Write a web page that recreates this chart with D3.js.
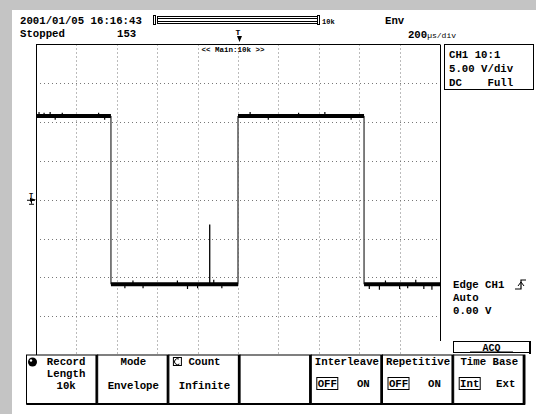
<!DOCTYPE html>
<html><head><meta charset="utf-8">
<script src="https://cdn.jsdelivr.net/npm/d3@7"></script>
<style>
html,body{margin:0;padding:0;background:#fff;}
svg{display:block;}
text{font-family:"Liberation Mono","DejaVu Sans Mono",monospace;font-weight:bold;fill:#000;}
</style></head>
<body>
<script>
// ---- data ----
const timeDomain = [-1000, 1000];          // µs, 200 µs/div
const voltDomain = [-20, 20];              // V, 5 V/div
const edgeTimes = [-1000, -629, 0, 624, 1000];   // µs
const levelVolts = [10.8, -10.9, 10.8, -10.9];   // V between edges
const spikeTimes = [-140];
const spikeVolts = [-3.2];
const noiseTimes = [-985, -960, -930, -905, -870, -690, -660, -560, -520, -470, -300, -250, -200, -120, -80, 60, 150, 300, 430, 560, 650, 700, 730, 800, 840, 880, 920, 960];
const noiseVolts = [11.3, 11.2, 11.3, 10.3, 11.2, 11.2, 10.3, -11.4, -10.4, -11.4, -10.4, -11.5, -11.4, -10.3, -11.4, 11.3, 10.3, 11.2, 11.3, 10.3, -11.5, -11.6, -10.4, -11.5, -11.4, -10.3, -11.5, -11.6];
const headerDate = "2001/01/05 16:16:43";
const headerState = "Stopped";
const headerCount = "153";
const headerMode = "Env";
const timeDiv = ["200", "µs/div"];
const recLabel = "10k";
const mainLabel = "<< Main:10k >>";
const chLines = ["CH1 10:1", "5.00 V/div", "DC    Full"];
const trigLines = ["Edge CH1", "Auto", "0.00 V"];
const menuTitle = "ACQ";
const buttonTop = ["Record", "Mode", "Count", "", "Interleave", "Repetitive", "Time Base"];
const buttonMid = ["Length", "", "", "", "", "", ""];
const buttonBot = ["10k", "Envelope", "Infinite", "", "", "", ""];
const buttonOpts = [null, null, null, null, ["OFF", "ON"], ["OFF", "ON"], ["Int", "Ext"]];

// ---- layout ----
const W = 536, H = 414;
const plot = {l: 36, r: 440, t: 44.5, b: 355};
const svg = d3.select("body").append("svg").attr("width", W).attr("height", H);
svg.append("rect").attr("width", W).attr("height", H).attr("fill", "#fff");
svg.append("rect").attr("x", 0).attr("y", 0).attr("width", W).attr("height", 10).attr("fill", "#c4c4c4");
svg.append("rect").attr("x", 0).attr("y", 0).attr("width", 12).attr("height", H).attr("fill", "#c4c4c4");

const x = d3.scaleLinear().domain(timeDomain).range([plot.l, plot.r]);
const y = d3.scaleLinear().domain(voltDomain).range([plot.b, plot.t]);

// grid
const g = svg.append("g");
x.ticks(10).slice(1, -1).forEach(t => {
  g.append("line").attr("x1", Math.round(x(t)) + 0.5).attr("x2", Math.round(x(t)) + 0.5)
    .attr("y1", plot.t).attr("y2", plot.b)
    .attr("stroke", "#777").attr("stroke-dasharray", "1,3");
});
y.ticks(8).slice(1, -1).forEach(v => {
  g.append("line").attr("y1", Math.round(y(v)) + 0.5).attr("y2", Math.round(y(v)) + 0.5)
    .attr("x1", plot.l).attr("x2", plot.r)
    .attr("stroke", "#777").attr("stroke-dasharray", "1,3");
});
// frame
svg.append("line").attr("x1", plot.l + 0.5).attr("x2", plot.l + 0.5).attr("y1", plot.t).attr("y2", plot.b).attr("stroke", "#000");
svg.append("line").attr("x1", plot.l).attr("x2", plot.r).attr("y1", plot.t).attr("y2", plot.t).attr("stroke", "#000");
svg.append("line").attr("x1", plot.r + 0.5).attr("x2", plot.r + 0.5).attr("y1", plot.t).attr("y2", 341).attr("stroke", "#000");

// waveform: vertical transitions
const wave = svg.append("g");
for (let i = 1; i < edgeTimes.length - 1; i++) {
  wave.append("line").attr("x1", x(edgeTimes[i])).attr("x2", x(edgeTimes[i]))
    .attr("y1", y(levelVolts[i - 1])).attr("y2", y(levelVolts[i]))
    .attr("stroke", "#555").attr("stroke-width", 1.5);
}
// horizontal envelope bands
for (let i = 0; i < levelVolts.length; i++) {
  wave.append("line").attr("x1", x(edgeTimes[i])).attr("x2", x(edgeTimes[i + 1]))
    .attr("y1", y(levelVolts[i])).attr("y2", y(levelVolts[i]))
    .attr("stroke", "#000").attr("stroke-width", 4);
}
// envelope noise
noiseTimes.forEach((t, i) => {
  const lvl = levelVolts[d3.bisectRight(edgeTimes, t) - 1];
  wave.append("line").attr("x1", x(t)).attr("x2", x(t))
    .attr("y1", y(lvl)).attr("y2", y(noiseVolts[i]))
    .attr("stroke", "#000").attr("stroke-width", 1.2);
});
// spike
spikeTimes.forEach((t, i) => {
  const lvl = levelVolts[d3.bisectRight(edgeTimes, t) - 1];
  wave.append("line").attr("x1", x(t)).attr("x2", x(t))
    .attr("y1", y(lvl)).attr("y2", y(spikeVolts[i]))
    .attr("stroke", "#000").attr("stroke-width", 1.3);
});

// trigger level marker on the left
const ty = y(0);
svg.append("text").attr("x", 29).attr("y", ty - 2).attr("font-size", 7).text("T");
svg.append("path").attr("d", `M30,${ty - 2} L36,${ty} L30,${ty + 2} Z`).attr("fill", "#000");
svg.append("line").attr("x1", 27).attr("x2", 35).attr("y1", ty + 0.5).attr("y2", ty + 0.5).attr("stroke", "#000");
svg.append("line").attr("x1", 31.5).attr("x2", 31.5).attr("y1", ty).attr("y2", ty + 4).attr("stroke", "#000");
svg.append("line").attr("x1", 29).attr("x2", 34).attr("y1", ty + 4.5).attr("y2", ty + 4.5).attr("stroke", "#000");

// header texts
svg.append("text").attr("x", 20).attr("y", 24).attr("font-size", 10.7).text(headerDate);
svg.append("text").attr("x", 20).attr("y", 37).attr("font-size", 10.7).text(headerState);
svg.append("text").attr("x", 117).attr("y", 37).attr("font-size", 10.7).text(headerCount);
svg.append("text").attr("x", 385).attr("y", 24).attr("font-size", 10.7).text(headerMode);
const td = svg.append("text").attr("x", 456).attr("y", 38).attr("text-anchor", "end").attr("font-size", 10.7);
td.append("tspan").text(timeDiv[0]);
td.append("tspan").attr("font-size", 8).attr("font-weight", "normal").text(timeDiv[1]);

// record length bar
const bar = svg.append("g");
bar.append("rect").attr("x", 153.5).attr("y", 15.5).attr("width", 2).attr("height", 9).attr("fill", "none").attr("stroke", "#000");
[16.5, 18.5, 21.5, 23.5].forEach(yy => {
  bar.append("line").attr("x1", 157).attr("x2", 318).attr("y1", yy).attr("y2", yy).attr("stroke", "#000");
});
bar.append("line").attr("x1", 157.5).attr("x2", 157.5).attr("y1", 16).attr("y2", 24).attr("stroke", "#000");
bar.append("rect").attr("x", 317.5).attr("y", 15.5).attr("width", 2).attr("height", 9).attr("fill", "none").attr("stroke", "#000");
bar.append("text").attr("x", 322).attr("y", 24).attr("font-size", 7).attr("font-weight", "normal").text(recLabel);
// trigger position marker
const tx = x(0);
svg.append("text").attr("x", tx - 2.5).attr("y", 35).attr("font-size", 8).text("T");
svg.append("path").attr("d", `M${tx - 1},${36} L${tx + 4},${36} L${tx + 1.5},${42} Z`).attr("fill", "#000");
svg.append("text").attr("x", 233).attr("y", 52).attr("text-anchor", "middle").attr("font-size", 7.5)
  .attr("font-weight", "normal").attr("font-family", "DejaVu Sans").text(mainLabel);

// channel box
svg.append("rect").attr("x", 444.5).attr("y", 44.5).attr("width", 89).attr("height", 45)
  .attr("fill", "#fff").attr("stroke", "#000");
chLines.forEach((s, i) => svg.append("text").attr("x", 449).attr("y", 58 + i * 14).attr("font-size", 10.7)
  .attr("xml:space", "preserve").style("white-space", "pre").text(s));

// trigger info
trigLines.forEach((s, i) => svg.append("text").attr("x", 453).attr("y", 288 + i * 13).attr("font-size", 10.7).text(s));
svg.append("path").attr("d", "M515,289 L521,289 L521,280 L526,280").attr("fill", "none").attr("stroke", "#000").attr("stroke-width", 1.2);
svg.append("path").attr("d", "M518,286 L521,282 L524,286").attr("fill", "none").attr("stroke", "#000").attr("stroke-width", 1);

// ACQ title box
svg.append("rect").attr("x", 453.5).attr("y", 341.5).attr("width", 76).attr("height", 11).attr("fill", "#fff").attr("stroke", "#000");
svg.append("line").attr("x1", 530).attr("x2", 530).attr("y1", 341).attr("y2", 354).attr("stroke", "#000").attr("stroke-width", 2);
svg.append("text").attr("x", 491.5).attr("y", 351).attr("text-anchor", "middle").attr("font-size", 10).text(menuTitle);
svg.append("line").attr("x1", 470).attr("x2", 513).attr("y1", 352).attr("y2", 352).attr("stroke", "#000");

// buttons
const bx0 = 26.5, bw = 71.2, by0 = 355, by1 = 404;
buttonTop.forEach((lab, i) => {
  const bx = bx0 + i * bw;
  const bg = svg.append("g");
  bg.append("rect").attr("x", bx).attr("y", by0).attr("width", bw).attr("height", by1 - by0)
    .attr("fill", "#fff").attr("stroke", "#000").attr("stroke-width", 1);
  bg.append("line").attr("x1", bx + bw - 1).attr("x2", bx + bw - 1).attr("y1", by0).attr("y2", by1 + 1).attr("stroke", "#000").attr("stroke-width", 2.5);
  bg.append("line").attr("x1", bx).attr("x2", bx + bw).attr("y1", by1).attr("y2", by1).attr("stroke", "#000").attr("stroke-width", 2);
  const cx = bx + bw / 2;
  if (lab) bg.append("text").attr("x", cx + (i === 0 ? 4 : 0)).attr("y", 365).attr("text-anchor", "middle").attr("font-size", 10.7).text(lab);
  if (buttonMid[i]) bg.append("text").attr("x", cx + 4).attr("y", 377).attr("text-anchor", "middle").attr("font-size", 10.7).text(buttonMid[i]);
  if (buttonBot[i]) bg.append("text").attr("x", cx + (i === 0 ? 4 : 0)).attr("y", 389).attr("text-anchor", "middle").attr("font-size", 10.7).text(buttonBot[i]);
  if (buttonOpts[i]) {
    const [a, b] = buttonOpts[i];
    const ax = bx + 16, bxx = bx + 52;
    bg.append("text").attr("x", ax).attr("y", 387).attr("text-anchor", "middle").attr("font-size", 10.7).text(a);
    bg.append("rect").attr("x", ax - 10.5).attr("y", 377.5).attr("width", 21).attr("height", 12)
      .attr("fill", "none").attr("stroke", "#000");
    bg.append("text").attr("x", bxx).attr("y", 387).attr("text-anchor", "middle").attr("font-size", 10.7).text(b);
  }
});
// knob icon on first button
svg.append("circle").attr("cx", 32.5).attr("cy", 362).attr("r", 4.5).attr("fill", "#000");
svg.append("circle").attr("cx", 31).attr("cy", 360.5).attr("r", 1.2).attr("fill", "#fff");
// count icon on third button
const ix = bx0 + 2 * bw + 4;
svg.append("rect").attr("x", ix + 0.5).attr("y", 357.5).attr("width", 8).attr("height", 8).attr("fill", "none").attr("stroke", "#000");
svg.append("path").attr("d", `M${ix + 6},${359} A3,3 0 1 0 ${ix + 6.5},${364}`).attr("fill", "none").attr("stroke", "#000");
</script>
</body></html>
